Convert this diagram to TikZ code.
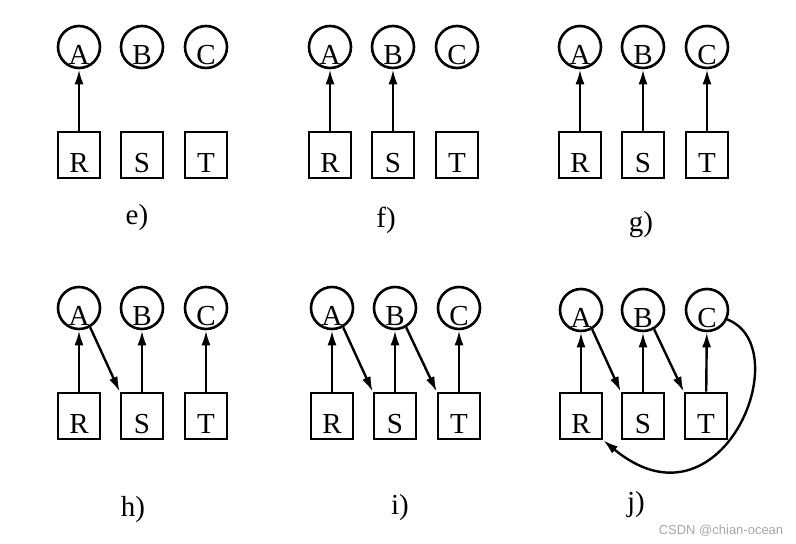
\documentclass[tikz,border=0pt]{standalone}
\usepackage{fontspec}
\setmainfont{Liberation Serif}
\newfontfamily\marksf{Liberation Sans}
\usetikzlibrary{arrows.meta}
\tikzset{
  circ/.style={draw,circle,line width=2.6pt,minimum size=42pt,inner sep=0pt,
    text height=35pt,text depth=0pt},
  box/.style={draw,rectangle,line width=2.6pt,minimum width=42pt,minimum height=46pt,
    inner sep=0pt,text height=35pt,text depth=0pt},
  lock/.style={-{Latex[length=15pt,width=9pt]},line width=2.4pt}
}
\begin{document}
\begin{tikzpicture}[x=1pt,y=-1pt,font=\fontsize{29}{30}\selectfont]
      \useasboundingbox (0,0) rectangle (796,544);
      \begin{scope}[shift={(79,47)}]
        \draw
          (0,0) node[circ] (eA){A}
          (63,0) node[circ] (eB){B}
          (127,0) node[circ] (eC){C}
          (0,108) node[box] (eR){R}
          (63,108) node[box] (eS){S}
          (127,108) node[box] (eT){T}
          (58,171) node (e){e)};
      \end{scope}
      \begin{scope}[shift={(330,47)}]
        \draw
          (0,0) node[circ] (fA){A}
          (63,0) node[circ] (fB){B}
          (127,0) node[circ] (fC){C}
          (0,108) node[box] (fR){R}
          (63,108) node[box] (fS){S}
          (127,108) node[box] (fT){T}
          (56,173) node (f){f)};
      \end{scope}
      \begin{scope}[shift={(580,47)}]
        \draw
          (0,0) node[circ] (gA){A}
          (63,0) node[circ] (gB){B}
          (127,0) node[circ] (gC){C}
          (0,108) node[box] (gR){R}
          (63,108) node[box] (gS){S}
          (127,108) node[box] (gT){T}
          (61,178) node (g){g)};
      \end{scope}
      \begin{scope}[shift={(79,308)}]
        \draw
          (0,0) node[circ] (hA){A}
          (63,0) node[circ] (hB){B}
          (127,0) node[circ] (hC){C}
          (0,108) node[box] (hR){R}
          (63,108) node[box] (hS){S}
          (127,108) node[box] (hT){T}
          (54,202) node (h){h)};
      \end{scope}
      \begin{scope}[shift={(332,308)}]
        \draw
          (0,0) node[circ] (iA){A}
          (63,0) node[circ] (iB){B}
          (127,0) node[circ] (iC){C}
          (0,108) node[box] (iR){R}
          (63,108) node[box] (iS){S}
          (127,108) node[box] (iT){T}
          (68,200) node (i){i)};
      \end{scope}
      \begin{scope}[shift={(581,310)}]
        \draw
          (0,0) node[circ] (jA){A}
          (62,0) node[circ] (jB){B}
          (126,0) node[circ] (jC){C}
          (0,106) node[box] (jR){R}
          (62,106) node[box] (jS){S}
          (125,106) node[box] (jT){T}
          (55,195) node (j){j)};
      \end{scope}
      \begin{scope}[lock]
        \draw (eR) to (eA);
        \draw (fR) to (fA);
        \draw (fS) to (fB);
        \draw (gR) to (gA);
        \draw (gS) to (gB);
        \draw (gT) to (gC);
        \draw (hR) to (hA);
        \draw (hS) to (hB);
        \draw (hT) to (hC);
        \draw (hA.-60) to (hS.north west);
        \draw (iR) to (iA);
        \draw (iS) to (iB);
        \draw (iT) to (iC);
        \draw (iA.-60) to (iS.north west);
        \draw (iB.-60) to (iT.north west);
        \draw (jR) to (jA);
        \draw (jS) to (jB);
        \draw (jT) to (jC);
        \draw (jA.-60) to (jS.north west);
        \draw (jB.-60) to (jT.north west);
        \draw (jC.-25) .. controls +(72,28) and +(118,98) .. (jR.south east);
      \end{scope}
      \node[text=black!35,font=\marksf\fontsize{13}{13}\selectfont] (mark) at (721,531) {CSDN @chian-ocean};
    \end{tikzpicture}
\end{document}
